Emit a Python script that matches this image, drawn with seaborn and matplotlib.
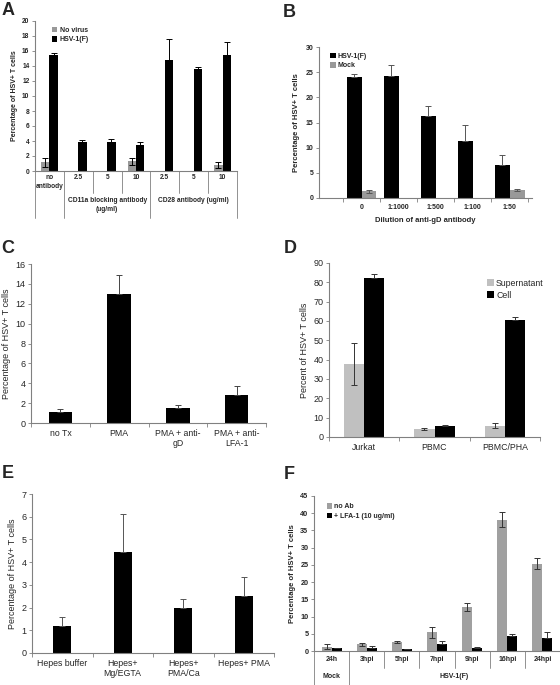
import seaborn as sns
import numpy as np
import matplotlib.pyplot as plt
import pandas as pd
from matplotlib.patches import Patch
from matplotlib.transforms import blended_transform_factory

sns.set_style("white")
plt.rcParams["font.family"] = ["Liberation Sans", "DejaVu Sans"]

W, H = 560, 685

# panel A
a_row1 = ["no\nantibody", "2.5", "5", "10", "2.5", "5", "10"]
a_novirus = [1.2, 0, 0, 1.3, 0, 0, 0.8]
a_novirus_err = [0.6, np.nan, np.nan, 0.5, np.nan, np.nan, 0.4]
a_hsv = [15.5, 3.8, 3.9, 3.4, 14.8, 13.6, 15.4]
a_hsv_err = [0.2, 0.3, 0.3, 0.4, 2.8, 0.3, 1.8]

# panel B
b_cats = ["0", "1:1000", "1:500", "1:100", "1:50"]
b_hsv = [24.1, 24.2, 16.3, 11.3, 6.5]
b_hsv_err = [0.6, 2.3, 2.0, 3.2, 2.1]
b_mock = [1.3, 0, 0, 0, 1.5]
b_mock_err = [0.3, np.nan, np.nan, np.nan, 0.2]

# panel C
c_cats = ["no Tx", "PMA", "PMA + anti-\ngD", "PMA + anti-\nLFA-1"]
c_vals = [1.1, 13.0, 1.5, 2.8]
c_err = [0.3, 1.9, 0.3, 0.95]

# panel D
d_cats = ["Jurkat", "PBMC", "PBMC/PHA"]
d_super = [37.8, 4.1, 5.9]
d_super_err = [10.7, 0.5, 1.5]
d_cell = [82.2, 5.7, 60.4]
d_cell_err = [1.9, 0.5, 1.9]

# panel E
e_cats = ["Hepes buffer", "Hepes+\nMg/EGTA", "Hepes+\nPMA/Ca", "Hepes+ PMA"]
e_vals = [1.2, 4.43, 2.0, 2.53]
e_err = [0.38, 1.7, 0.37, 0.8]

# panel F
f_row1 = ["24h", "3hpi", "5hpi", "7hpi", "9hpi", "16hpi", "24hpi"]
f_noab = [1.3, 1.9, 2.7, 5.4, 12.7, 38.1, 25.4]
f_noab_err = [0.6, 0.5, 0.3, 1.6, 1.2, 2.2, 1.7]
f_lfa = [0.8, 1.0, 0.5, 2.0, 1.0, 4.5, 3.9]
f_lfa_err = [0.2, 0.4, 0.1, 0.9, 0.1, 0.3, 1.6]

AXC = "#808080"


def make_ax(fig, l, t, r, b):
    return fig.add_axes([l / W, 1 - b / H, (r - l) / W, (b - t) / H])


def bars(ax, names, vals, errs, colors, width, ecolor="black"):
    n = len(vals[0])
    df = pd.DataFrame({
        "cat": np.tile(np.arange(n), len(names)),
        "val": np.concatenate(vals),
        "grp": np.repeat(names, n),
    })
    sns.barplot(data=df, x="cat", y="val", hue="grp", hue_order=names,
                palette=colors, width=width, saturation=1, errorbar=None,
                legend=False, linewidth=0, ax=ax)
    for cont, e, c in zip(ax.containers, errs, colors):
        for bar, v in zip(cont, e):
            if np.isnan(v):
                continue
            x = bar.get_x() + bar.get_width() / 2
            # on black bars only the upper half of the error bar shows
            lo = 0 if c == "black" else v
            ax.errorbar(x, bar.get_height(), yerr=[[lo], [v]], color=ecolor,
                        lw=0.7, capsize=2, capthick=0.7, zorder=5)
    ax.set_xlim(-0.5, n - 0.5)
    ax.set_xlabel("")
    ax.spines["top"].set_visible(False)
    ax.spines["right"].set_visible(False)
    for s in ["left", "bottom"]:
        ax.spines[s].set_color(AXC)
        ax.spines[s].set_linewidth(0.8)
    ax.tick_params(axis="y", direction="out", length=2.5, width=0.6,
                   color=AXC, pad=1.5, left=True)


def cat_ticks(ax, labels, size, weight="normal"):
    n = len(labels)
    ax.set_xticks(range(n))
    ax.set_xticklabels(labels, fontsize=size, fontweight=weight)
    ax.set_xticks(np.arange(-0.5, n), minor=True)
    ax.tick_params(axis="x", which="major", length=0, pad=4)
    ax.tick_params(axis="x", which="minor", direction="out", length=3,
                   width=0.6, color=AXC, bottom=True)


def legend(ax, labels, colors, size, loc, anchor, weight="normal"):
    handles = [Patch(facecolor=c, edgecolor="none") for c in colors]
    ax.legend(handles, labels, loc=loc, bbox_to_anchor=anchor, frameon=False,
              handlelength=0.8, handleheight=0.8, handletextpad=0.3,
              labelspacing=0.35, borderaxespad=0,
              prop={"size": size, "weight": weight})


def vline(ax, x, depth):
    tr = blended_transform_factory(ax.transData, ax.transAxes)
    ax.plot([x, x], [0, -depth], transform=tr, clip_on=False,
            color=AXC, lw=0.6)


fig = plt.figure(figsize=(W / 100, H / 100), dpi=100)

# ---- A ----
ax = make_ax(fig, 35, 21, 237, 171)
bars(ax, ["No virus", "HSV-1(F)"], [a_novirus, a_hsv],
     [a_novirus_err, a_hsv_err], ["#999999", "black"], 0.58)
ax.set_ylim(0, 20)
ax.set_yticks(range(0, 21, 2))
ax.tick_params(axis="y", labelsize=4.8)
for lab in ax.get_yticklabels():
    lab.set_fontweight("bold")
ax.set_xticks([])
ax.set_ylabel("Percentage of HSV+ T cells", fontsize=5, fontweight="bold",
              labelpad=3)
legend(ax, ["No virus", "HSV-1(F)"], ["#999999", "black"], 5, "upper left",
       (0.07, 0.98), "bold")
tr = blended_transform_factory(ax.transData, ax.transAxes)
for i, lab in enumerate(a_row1):
    ax.text(i, -0.02, lab, transform=tr, ha="center", va="top",
            fontsize=4.8, fontweight="bold", linespacing=1.3)
ax.text(2, -0.175, "CD11a blocking antibody\n(ug/ml)", transform=tr,
        ha="center", va="top", fontsize=4.8, fontweight="bold",
        linespacing=1.3)
ax.text(5, -0.175, "CD28 antibody (ug/ml)", transform=tr, ha="center",
        va="top", fontsize=4.8, fontweight="bold")
for x in np.arange(-0.5, 7):
    vline(ax, x, 0.313 if x in (-0.5, 0.5, 3.5, 6.5) else 0.147)

# ---- B ----
ax = make_ax(fig, 319, 47, 532, 198)
bars(ax, ["HSV-1(F)", "Mock"], [b_hsv, b_mock], [b_hsv_err, b_mock_err],
     ["black", "#999999"], 0.8, ecolor="#555555")
ax.set_ylim(0, 30)
ax.set_yticks(range(0, 31, 5))
ax.tick_params(axis="y", labelsize=5)
for lab in ax.get_yticklabels():
    lab.set_fontweight("bold")
cat_ticks(ax, b_cats, 5, "bold")
ax.set_xlim(-1.15, 4.6)
ax.set_ylabel("Percentage of HSV+ T cells", fontsize=5.5, fontweight="bold",
              labelpad=4)
ax.set_xlabel("Dilution of anti-gD antibody", fontsize=5.5,
              fontweight="bold", labelpad=5)
legend(ax, ["HSV-1(F)", "Mock"], ["black", "#999999"], 5, "upper left",
       (0.04, 0.98), "bold")

# ---- C ----
ax = make_ax(fig, 31, 264, 266, 423)
bars(ax, ["v"], [c_vals], [c_err], ["black"], 0.4, ecolor="#444444")
ax.set_ylim(0, 16)
ax.set_yticks(range(0, 17, 2))
ax.tick_params(axis="y", labelsize=6.5)
cat_ticks(ax, c_cats, 6.3)
ax.set_ylabel("Percentage of HSV+ T cells", fontsize=6.5, labelpad=3)

# ---- D ----
ax = make_ax(fig, 329, 263, 540, 437)
bars(ax, ["Supernatant", "Cell"], [d_super, d_cell],
     [d_super_err, d_cell_err], ["#c0c0c0", "black"], 0.57,
     ecolor="#333333")
ax.set_ylim(0, 90)
ax.set_yticks(range(0, 91, 10))
ax.tick_params(axis="y", labelsize=6.5)
cat_ticks(ax, d_cats, 6.3)
ax.set_ylabel("Percent of HSV+ T cells", fontsize=6.5, labelpad=3)
legend(ax, ["Supernatant", "Cell"], ["#c0c0c0", "black"], 6.3,
       "upper left", (0.73, 0.93))

# ---- E ----
ax = make_ax(fig, 32, 494, 274, 653)
bars(ax, ["v"], [e_vals], [e_err], ["black"], 0.3, ecolor="#555555")
ax.set_ylim(0, 7)
ax.set_yticks(range(0, 8))
ax.tick_params(axis="y", labelsize=6.5)
cat_ticks(ax, e_cats, 6.3)
ax.set_ylabel("Percentage of HSV+ T cells", fontsize=6.5, labelpad=3)

# ---- F ----
ax = make_ax(fig, 314, 496, 560, 651)
bars(ax, ["no Ab", "+ LFA-1 (10 ug/ml)"], [f_noab, f_lfa],
     [f_noab_err, f_lfa_err], ["#a0a0a0", "black"], 0.57, ecolor="#333333")
ax.set_ylim(0, 45)
ax.set_yticks(range(0, 46, 5))
ax.tick_params(axis="y", labelsize=5.2)
for lab in ax.get_yticklabels():
    lab.set_fontweight("bold")
ax.set_xticks([])
ax.set_ylabel("Percentage of HSV+ T cells", fontsize=5.5, fontweight="bold",
              labelpad=3)
legend(ax, ["no Ab", "+ LFA-1 (10 ug/ml)"], ["#a0a0a0", "black"], 5,
       "upper left", (0.04, 0.97), "bold")
tr = blended_transform_factory(ax.transData, ax.transAxes)
for i, lab in enumerate(f_row1):
    ax.text(i, -0.055, lab, transform=tr, ha="center", va="center",
            fontsize=5, fontweight="bold")
ax.text(0, -0.165, "Mock", transform=tr, ha="center", va="center",
        fontsize=5, fontweight="bold")
ax.text(3.5, -0.165, "HSV-1(F)", transform=tr, ha="center", va="center",
        fontsize=5, fontweight="bold")
for x in np.arange(-0.5, 7):
    vline(ax, x, 0.219 if x in (-0.5, 0.5, 6.5) else 0.11)

# panel letters
for lab, x, y in [("A", 2, 2), ("B", 283, 4), ("C", 1, 240), ("D", 284, 240),
                  ("E", 2, 465), ("F", 284, 466)]:
    fig.text(x / W, 1 - y / H, lab, fontsize=13, fontweight="bold",
             va="top", ha="left")

fig.savefig("out.png", dpi=100)
